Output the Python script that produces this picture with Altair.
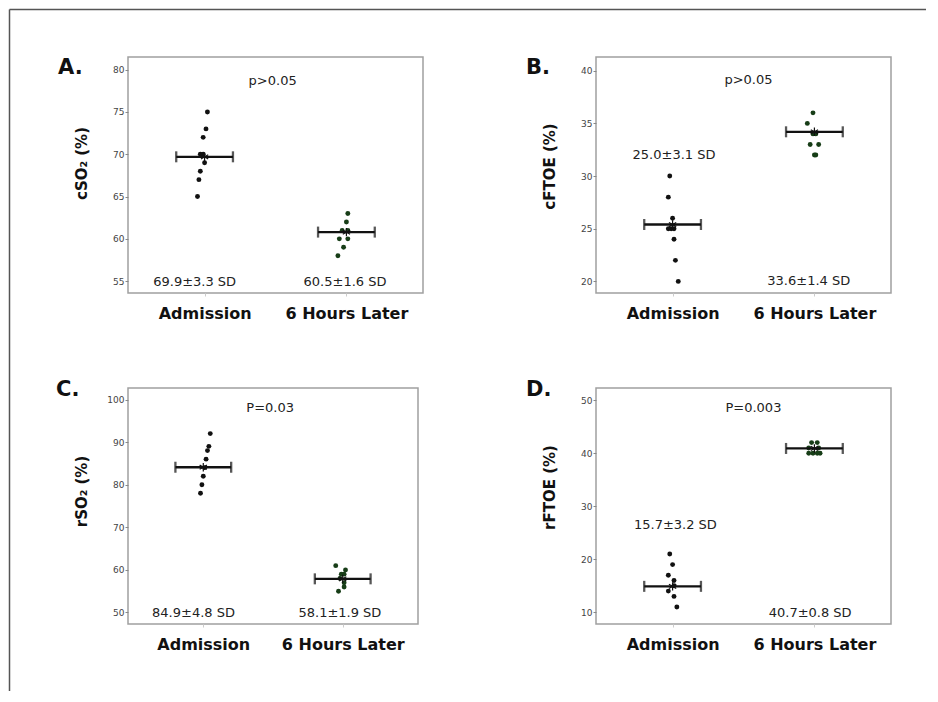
import altair as alt
import pandas as pd

groups = ["Admission", "6 Hours Later"]
group_pos = [1, 2]

# ---- Panel A: cSO2 ----
a_adm = [75, 73, 72, 70, 70, 69, 68, 67, 65]
a_adm_x = [1.02, 1.01, 0.99, 0.97, 0.99, 1.00, 0.97, 0.96, 0.95]
a_late = [63, 62, 61, 61, 60, 60, 59, 58]
a_late_x = [2.01, 2.00, 1.97, 2.01, 1.95, 2.01, 1.98, 1.94]
a_bar = [69.7, 60.8]
a_sd = ["69.9±3.3 SD", "60.5±1.6 SD"]
a_sd_x = [0.93, 1.99]
a_sd_y = [54.9, 54.9]
a_p = "p>0.05"
a_p_xy = [1.48, 78.7]
a_ticks = [55, 60, 65, 70, 75, 80]
a_dom = [53.6, 81.5]

# ---- Panel B: cFTOE ----
b_adm = [30, 28, 26, 25, 25, 25, 24, 22, 20]
b_adm_x = [0.98, 0.97, 1.00, 0.99, 1.01, 0.97, 1.01, 1.02, 1.04]
b_late = [36, 35, 34, 34, 33, 33, 32, 32]
b_late_x = [1.99, 1.95, 1.99, 2.01, 1.97, 2.03, 2.00, 2.01]
b_bar = [25.4, 34.2]
b_sd = ["25.0±3.1 SD", "33.6±1.4 SD"]
b_sd_x = [1.01, 1.96]
b_sd_y = [32.0, 20.0]
b_p = "p>0.05"
b_p_xy = [1.535, 39.1]
b_ticks = [20, 25, 30, 35, 40]
b_dom = [18.9, 41.3]

# ---- Panel C: rSO2 ----
c_adm = [92, 89, 88, 86, 84, 82, 80, 78]
c_adm_x = [1.05, 1.04, 1.03, 1.02, 1.01, 1.00, 0.99, 0.98]
c_late = [61, 60, 59, 59, 58, 57, 56, 55]
c_late_x = [1.95, 2.02, 1.99, 2.01, 1.98, 2.01, 2.01, 1.97]
c_bar = [84.1, 57.9]
c_sd = ["84.9±4.8 SD", "58.1±1.9 SD"]
c_sd_x = [0.93, 1.98]
c_sd_y = [49.8, 49.8]
c_p = "P=0.03"
c_p_xy = [1.48, 98.0]
c_ticks = [50, 60, 70, 80, 90, 100]
c_dom = [47.3, 102.7]

# ---- Panel D: rFTOE ----
d_adm = [21, 19, 17, 16, 15, 14, 13, 11]
d_adm_x = [0.98, 1.00, 0.97, 1.01, 1.01, 0.97, 1.01, 1.03]
d_late = [42, 42, 41, 41, 40, 40, 40, 40]
d_late_x = [1.98, 2.02, 1.96, 2.03, 1.96, 1.99, 2.02, 2.04]
d_bar = [14.9, 40.9]
d_sd = ["15.7±3.2 SD", "40.7±0.8 SD"]
d_sd_x = [1.02, 1.97]
d_sd_y = [26.5, 9.9]
d_p = "P=0.003"
d_p_xy = [1.57, 48.6]
d_ticks = [10, 20, 30, 40, 50]
d_dom = [7.8, 52.3]

FONT = "DejaVu Sans"
HALF = 0.2
ASTERISK = "M0,-1L0,1M-0.87,-0.5L0.87,0.5M-0.87,0.5L0.87,-0.5"


def make_panel(letter, ytitle, ydom, yticks, adm, adm_x, late, late_x, bar,
               sd_txt, sd_x, sd_y, ptxt, pxy, width, title_y, letter_x,
               letter_y, border=False):
    xscale = alt.Scale(domain=[0.46, 2.54], nice=False, zero=False)
    yscale = alt.Scale(domain=ydom, nice=False, zero=False)
    xaxis = alt.Axis(values=group_pos, title=None, grid=False, domain=False,
                     labelExpr="datum.value == 1 ? 'Admission' : '6 Hours Later'",
                     tickSize=3, tickColor="#cccccc", labelFont=FONT,
                     labelFontWeight="bold", labelFontSize=16,
                     labelColor="#111111", labelPadding=9, labelFlush=False)
    yaxis = alt.Axis(values=yticks, title=ytitle, grid=False, domain=False,
                     tickSize=3, tickColor="#888888", labelFontSize=9,
                     labelColor="#444444", labelPadding=1, labelFont=FONT,
                     titleFont=FONT, titleFontSize=15, titleFontWeight="bold",
                     titleColor="#111111", titleX=-39, titleY=title_y,
                     titleBaseline="bottom", titleAngle=270)

    def X(f):
        return alt.X(f, type="quantitative", scale=xscale, axis=xaxis)

    def Y(f):
        return alt.Y(f, type="quantitative", scale=yscale, axis=yaxis)

    pts = pd.DataFrame({
        "x": adm_x + late_x,
        "y": adm + late,
        "g": [groups[0]] * len(adm) + [groups[1]] * len(late),
    })
    bars = pd.DataFrame({"x": group_pos, "y": bar})
    texts = pd.DataFrame({"x": sd_x + [pxy[0]], "y": sd_y + [pxy[1]],
                          "t": sd_txt + [ptxt]})

    points = alt.Chart(pts).mark_circle(size=24, opacity=1).encode(
        x=X("x"), y=Y("y"),
        color=alt.Color("g:N", scale=alt.Scale(domain=groups,
                        range=["#111111", "#173d17"]), legend=None))

    base_bar = alt.Chart(bars).transform_calculate(
        lo=f"datum.x - {HALF}", hi=f"datum.x + {HALF}")
    hline = base_bar.mark_rule(color="#111111", strokeWidth=2.3).encode(
        x=X("lo"), x2="hi:Q", y=Y("y"))
    cap_lo = base_bar.mark_tick(orient="vertical", color="#111111",
                                size=11, thickness=2.3).encode(x=X("lo"), y=Y("y"))
    cap_hi = base_bar.mark_tick(orient="vertical", color="#111111",
                                size=11, thickness=2.3).encode(x=X("hi"), y=Y("y"))
    star = alt.Chart(bars).mark_point(shape=ASTERISK, size=70, filled=False,
                                      color="#111111", strokeWidth=1.2,
                                      opacity=1).encode(x=X("x"), y=Y("y"))
    labels = alt.Chart(texts).mark_text(font=FONT, fontSize=13,
                                        color="#222222").encode(
        x=X("x"), y=Y("y"), text="t:N")
    let = alt.Chart(alt.Data(values=[{"t": letter}])).mark_text(
        font=FONT, fontSize=21, fontWeight="bold", align="left",
        baseline="alphabetic", color="#111111").encode(
        x=alt.value(letter_x), y=alt.value(letter_y), text="t:N")

    layers = [points, hline, cap_lo, cap_hi, star, labels, let]
    if border:
        one = alt.Data(values=[{"k": 1}])
        left_line = alt.Chart(one).mark_rule(color="#555555", strokeWidth=1.5).encode(
            x=alt.value(-118.5), y=alt.value(-47.5), y2=alt.value(634))
        top_line = alt.Chart(one).mark_rule(color="#555555", strokeWidth=1.5).encode(
            x=alt.value(-118.5), x2=alt.value(798), y=alt.value(-47.5))
        layers = [left_line, top_line] + layers
    return alt.layer(*layers).properties(width=width, height=236)


pA = make_panel("A.", "cSO₂ (%)", a_dom, a_ticks, a_adm, a_adm_x, a_late,
                a_late_x, a_bar, a_sd, a_sd_x, a_sd_y, a_p, a_p_xy, 295,
                106, -70, 17, border=True)
pB = make_panel("B.", "cFTOE (%)", b_dom, b_ticks, b_adm, b_adm_x, b_late,
                b_late_x, b_bar, b_sd, b_sd_x, b_sd_y, b_p, b_p_xy, 295,
                109, -70, 17)
pC = make_panel("C.", "rSO₂ (%)", c_dom, c_ticks, c_adm, c_adm_x, c_late,
                c_late_x, c_bar, c_sd, c_sd_x, c_sd_y, c_p, c_p_xy, 290,
                103, -72, 8)
pD = make_panel("D.", "rFTOE (%)", d_dom, d_ticks, d_adm, d_adm_x, d_late,
                d_late_x, d_bar, d_sd, d_sd_x, d_sd_y, d_p, d_p_xy, 295,
                99, -70, 8)

chart = alt.concat(pA, pB, pC, pD, columns=2,
                   spacing={"row": 95, "column": 173},
                   bounds="flush").properties(
    padding=0, background="white"
).configure_view(stroke="#a0a0a0", strokeWidth=1.5)

chart.save("out.html", embed_options={"renderer": "svg", "actions": False})
